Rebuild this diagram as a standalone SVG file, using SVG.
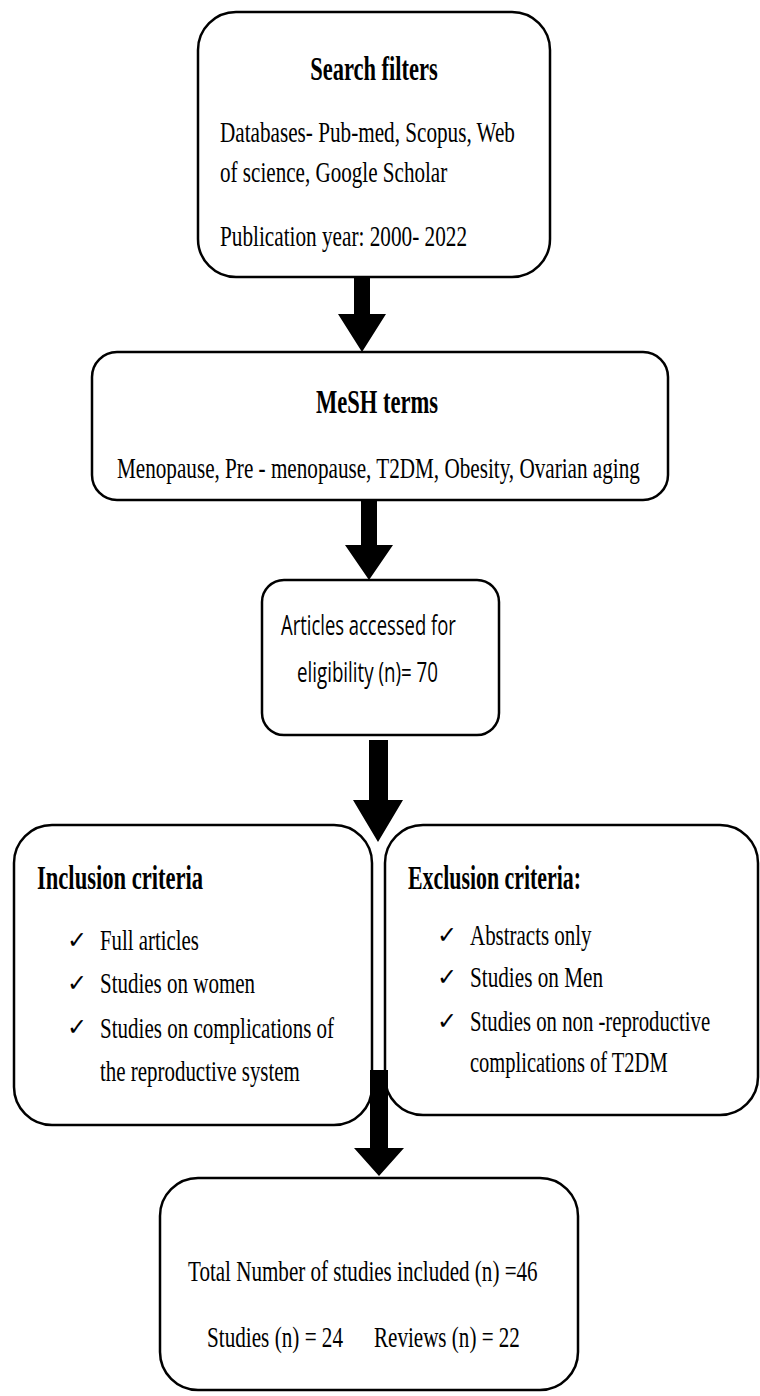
<svg xmlns="http://www.w3.org/2000/svg" width="760" height="1396" viewBox="0 0 760 1396">
<style>
.box{fill:#fff;stroke:#000;stroke-width:2.5}
.t{font-family:"Liberation Serif","Times New Roman",serif;font-size:30px;fill:#000}
.b{font-weight:bold;font-size:33px}
.s{font-family:"Open Sans","Liberation Sans",sans-serif;font-size:28px;fill:#000}
.ck{font-family:"DejaVu Sans",sans-serif;font-size:24px;fill:#000}
.arr{fill:#000}
</style>
<rect width="760" height="1396" fill="#fff"/>
<g id="connectors">
<polygon class="arr" points="354,277 370,277 370,314 386,314 362,352 338,314 354,314"/>
<polygon class="arr" points="361,500 377,500 377,545 393,545 369,580 345,545 361,545"/>
<polygon class="arr" points="369,740 388,740 388,800 403,800 378,842 353,800 369,800"/>
</g>
<g id="search">
<rect class="box" x="198" y="12" width="352" height="265" rx="38"/>
<text class="t b" transform="translate(374,80) scale(0.62,1)" text-anchor="middle" textLength="206" lengthAdjust="spacingAndGlyphs">Search filters</text>
<text class="t" transform="translate(220,142) scale(0.76,1)" textLength="388" lengthAdjust="spacingAndGlyphs">Databases- Pub-med, Scopus, Web</text>
<text class="t" transform="translate(220,182) scale(0.76,1)" textLength="299" lengthAdjust="spacingAndGlyphs">of science, Google Scholar</text>
<text class="t" transform="translate(220,246) scale(0.76,1)" textLength="325" lengthAdjust="spacingAndGlyphs">Publication year: 2000- 2022</text>
</g>
<g id="mesh">
<rect class="box" x="92" y="352" width="576" height="148" rx="25"/>
<text class="t b" transform="translate(377,413) scale(0.62,1)" text-anchor="middle" textLength="197" lengthAdjust="spacingAndGlyphs">MeSH terms</text>
<text class="t" transform="translate(117,478) scale(0.76,1)" textLength="688" lengthAdjust="spacingAndGlyphs">Menopause, Pre - menopause, T2DM, Obesity, Ovarian aging</text>
</g>
<g id="articles">
<rect class="box" x="262" y="580" width="237" height="155" rx="22"/>
<text class="s" transform="translate(281,635) scale(0.65,1)" textLength="269" lengthAdjust="spacingAndGlyphs">Articles accessed for</text>
<text class="s" transform="translate(297,682) scale(0.65,1)" textLength="217" lengthAdjust="spacingAndGlyphs">eligibility (n)= 70</text>
</g>
<g id="inclusion">
<rect class="box" x="14" y="825" width="358" height="300" rx="38"/>
<text class="t b" transform="translate(37,889) scale(0.62,1)" textLength="268" lengthAdjust="spacingAndGlyphs">Inclusion criteria</text>
<text class="ck" x="67" y="948">✓</text>
<text class="t" transform="translate(100,950) scale(0.76,1)" textLength="130" lengthAdjust="spacingAndGlyphs">Full articles</text>
<text class="ck" x="67" y="991">✓</text>
<text class="t" transform="translate(100,993) scale(0.76,1)" textLength="204" lengthAdjust="spacingAndGlyphs">Studies on women</text>
<text class="ck" x="67" y="1035">✓</text>
<text class="t" transform="translate(100,1038) scale(0.76,1)" textLength="308" lengthAdjust="spacingAndGlyphs">Studies on complications of</text>
<text class="t" transform="translate(100,1081) scale(0.76,1)" textLength="263" lengthAdjust="spacingAndGlyphs">the reproductive system</text>
</g>
<g id="exclusion">
<rect class="box" x="385" y="825" width="373" height="290" rx="38"/>
<text class="t b" transform="translate(408,889) scale(0.62,1)" textLength="279" lengthAdjust="spacingAndGlyphs">Exclusion criteria:</text>
<text class="ck" x="437" y="943">✓</text>
<text class="t" transform="translate(470,945) scale(0.76,1)" textLength="160" lengthAdjust="spacingAndGlyphs">Abstracts only</text>
<text class="ck" x="437" y="985">✓</text>
<text class="t" transform="translate(470,987) scale(0.76,1)" textLength="175" lengthAdjust="spacingAndGlyphs">Studies on Men</text>
<text class="ck" x="437" y="1029">✓</text>
<text class="t" transform="translate(470,1031) scale(0.76,1)" textLength="316" lengthAdjust="spacingAndGlyphs">Studies on non -reproductive</text>
<text class="t" transform="translate(470,1072) scale(0.76,1)" textLength="260" lengthAdjust="spacingAndGlyphs">complications of T2DM</text>
</g>
<g id="connector4">
<polygon class="arr" points="370,1070 388,1070 388,1148 404,1148 379,1176 354,1148 370,1148"/>
</g>
<g id="total">
<rect class="box" x="160" y="1178" width="418" height="212" rx="38"/>
<text class="t" transform="translate(188,1281) scale(0.76,1)" textLength="460" lengthAdjust="spacingAndGlyphs">Total Number of studies included (n) =46</text>
<text class="t" transform="translate(207,1347) scale(0.76,1)" textLength="179" lengthAdjust="spacingAndGlyphs">Studies (n) = 24</text>
<text class="t" transform="translate(374,1347) scale(0.76,1)" textLength="192" lengthAdjust="spacingAndGlyphs">Reviews (n) = 22</text>
</g>
</svg>
